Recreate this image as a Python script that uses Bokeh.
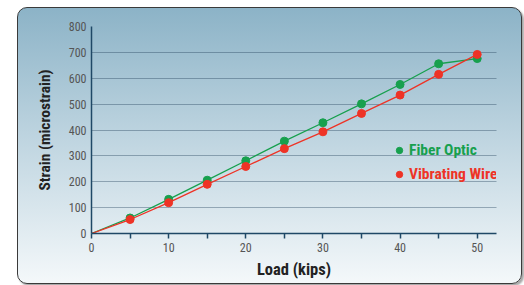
from bokeh.plotting import figure
from bokeh.models import FixedTicker, Legend, LegendItem, Range1d
from bokeh.embed import file_html
from bokeh.resources import INLINE

# ---- data ----
load_kips = [0, 5, 10, 15, 20, 25, 30, 35, 40, 45, 50]
fiber_optic = [0, 60, 132, 206, 281, 357, 428, 501, 576, 656, 676]
vibrating_wire = [0, 54, 119, 190, 259, 328, 393, 464, 535, 615, 692]
series_names = ["Fiber Optic", "Vibrating Wire"]
series_colors = ["#17a04e", "#ee3326"]
x_ticks = [0, 10, 20, 30, 40, 50]
x_minor_ticks = [5, 15, 25, 35, 45]
y_ticks = [0, 100, 200, 300, 400, 500, 600, 700, 800]

FONT = "Roboto Condensed"
AXIS_COLOR = "#1f4866"

p = figure(width=505, height=277, output_backend="svg", toolbar_location=None,
           x_range=Range1d(0, 52.5), y_range=Range1d(0, 800),
           min_border_left=73, min_border_right=27, min_border_top=18, min_border_bottom=52)
p.background_fill_alpha = 0
p.border_fill_alpha = 0
p.outline_line_color = None
p.styles = {
    "margin-left": "17px",
    "margin-top": "7px",
    "background": "linear-gradient(to bottom, #8cb3c7 0%, #bcd3df 45%, #f4f8fa 100%)",
    "border": "1.5px solid #3a3a3a",
    "border-radius": "10px",
    "box-shadow": "2px 2px 2px rgba(0,0,0,0.35)",
}

renderers = []
for ys, name, color in zip([fiber_optic, vibrating_wire], series_names, series_colors):
    p.line(load_kips, ys, line_color=color, line_width=1.3)
    r = p.scatter(load_kips[1:], ys[1:], size=8, fill_color=color, line_color=color)
    renderers.append(r)

# grid
p.xgrid.visible = False
p.ygrid.ticker = FixedTicker(ticks=y_ticks)
p.ygrid.grid_line_color = "#1d3b55"
p.ygrid.grid_line_alpha = 0.75
p.ygrid.grid_line_dash = "1 1"
p.ygrid.grid_line_width = 1

# x axis
xa = p.xaxis[0]
xa.ticker = FixedTicker(ticks=x_ticks, minor_ticks=x_minor_ticks)
xa.axis_line_color = AXIS_COLOR
xa.axis_line_width = 1.5
xa.major_tick_line_color = AXIS_COLOR
xa.minor_tick_line_color = AXIS_COLOR
xa.major_tick_in = 0
xa.major_tick_out = 5
xa.minor_tick_in = 0
xa.minor_tick_out = 5
xa.major_tick_line_width = 1.5
xa.minor_tick_line_width = 1.5
xa.major_label_text_font = FONT
xa.major_label_text_font_size = "12px"
xa.major_label_text_color = "#555555"
xa.major_label_standoff = 4
xa.axis_label = "Load (kips)"
xa.axis_label_text_font = FONT
xa.axis_label_text_font_size = "16.5px"
xa.axis_label_text_font_style = "bold"
xa.axis_label_text_color = "#222222"
xa.axis_label_standoff = 5

# y axis
ya = p.yaxis[0]
ya.ticker = FixedTicker(ticks=y_ticks)
ya.axis_line_color = AXIS_COLOR
ya.axis_line_width = 1.5
ya.major_tick_in = 0
ya.major_tick_out = 0
ya.minor_tick_line_color = None
ya.major_label_text_font = FONT
ya.major_label_text_font_size = "12px"
ya.major_label_text_color = "#555555"
ya.major_label_standoff = 5
ya.axis_label = "Strain (microstrain)"
ya.axis_label_text_font = FONT
ya.axis_label_text_font_size = "15.5px"
ya.axis_label_text_font_style = "bold"
ya.axis_label_text_color = "#222222"
ya.axis_label_standoff = 12

# legends (one per series so each label gets its own colour)
legend_positions = [(300, 74), (300, 50)]
for r, name, color, loc in zip(renderers, series_names, series_colors, legend_positions):
    lg = Legend(items=[LegendItem(label=name, renderers=[r])], location=loc,
                label_text_color=color, label_text_font=FONT, label_text_font_size="15.5px",
                label_text_font_style="bold", background_fill_alpha=0, border_line_alpha=0,
                padding=0, margin=0, glyph_width=16, glyph_height=16, label_standoff=2,
                label_height=16, spacing=0)
    p.add_layout(lg)

open("out.html", "w").write(file_html(p, INLINE))
